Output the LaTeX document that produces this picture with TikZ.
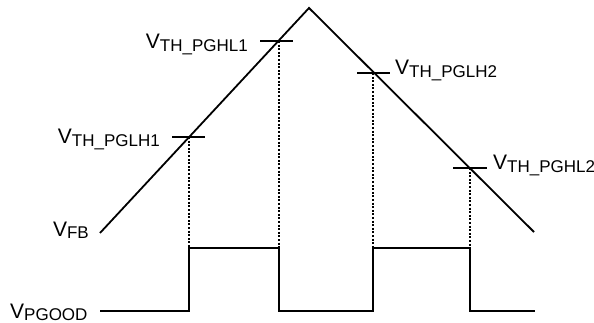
\documentclass[tikz,border=0pt]{standalone}
\usepackage{fontspec}
\setmainfont{Liberation Sans}
\newcommand{\sigl}[1]{{\fontsize{21}{21}\selectfont V}\raisebox{-2.5pt}{\fontsize{17}{17}\selectfont #1}}
\begin{document}
\begin{tikzpicture}[x=1pt,y=-1pt,
  sig/.style={line width=1.8pt, line join=miter},
  tick/.style={line width=1.8pt},
  guide/.style={line width=1.6pt, dash pattern=on 2pt off 1.6pt},
  lbl/.style={inner sep=0pt, font=\fontsize{21}{21}\selectfont}]
\useasboundingbox (0,0) rectangle (594,323);
% coordinates
\coordinate (fbL) at (100,233);
\coordinate (peak) at (309,8);
\coordinate (fbR) at (534,232);
\coordinate (t1) at (189,137);
\coordinate (t2) at (279,41);
\coordinate (t3) at (373,73);
\coordinate (t4) at (470,168);
\coordinate (p0) at (100,311);
\coordinate (r1b) at (189,311);
\coordinate (r1t) at (189,248);
\coordinate (f1t) at (279,248);
\coordinate (f1b) at (279,311);
\coordinate (r2b) at (373,311);
\coordinate (r2t) at (373,248);
\coordinate (f2t) at (470,248);
\coordinate (f2b) at (470,311);
\coordinate (pend) at (535,311);
% VFB triangle
\draw[sig] (fbL) -- (peak) -- (fbR);
% ticks
\draw[tick] ([xshift=-17pt]t1) -- ([xshift=16pt]t1);
\draw[tick] ([xshift=-19pt]t2) -- ([xshift=14pt]t2);
\draw[tick] ([xshift=-16pt]t3) -- ([xshift=17pt]t3);
\draw[tick] ([xshift=-17pt]t4) -- ([xshift=17pt]t4);
% guides
\draw[guide] (t1) -- (r1t);
\draw[guide] (t2) -- (f1t);
\draw[guide] (t3) -- (r2t);
\draw[guide] (t4) -- (f2t);
% PGOOD
\draw[sig] (p0) -- (r1b) -- (r1t) -- (f1t) -- (f1b) -- (r2b) -- (r2t) -- (f2t) -- (f2b) -- (pend);
% labels
\node[lbl, anchor=base east] (l2) at (248,49) {\sigl{TH\_PGHL1}};
\node[lbl, anchor=base east] (l1) at (160,144) {\sigl{TH\_PGLH1}};
\node[lbl, anchor=base west] (l3) at (395,75) {\sigl{TH\_PGLH2}};
\node[lbl, anchor=base west] (l4) at (493,170) {\sigl{TH\_PGHL2}};
\node[lbl, anchor=base east] (lfb) at (89,236) {\sigl{FB}};
\node[lbl, anchor=base west] (lpg) at (10,318) {\sigl{PGOOD}};
\end{tikzpicture}
\end{document}
